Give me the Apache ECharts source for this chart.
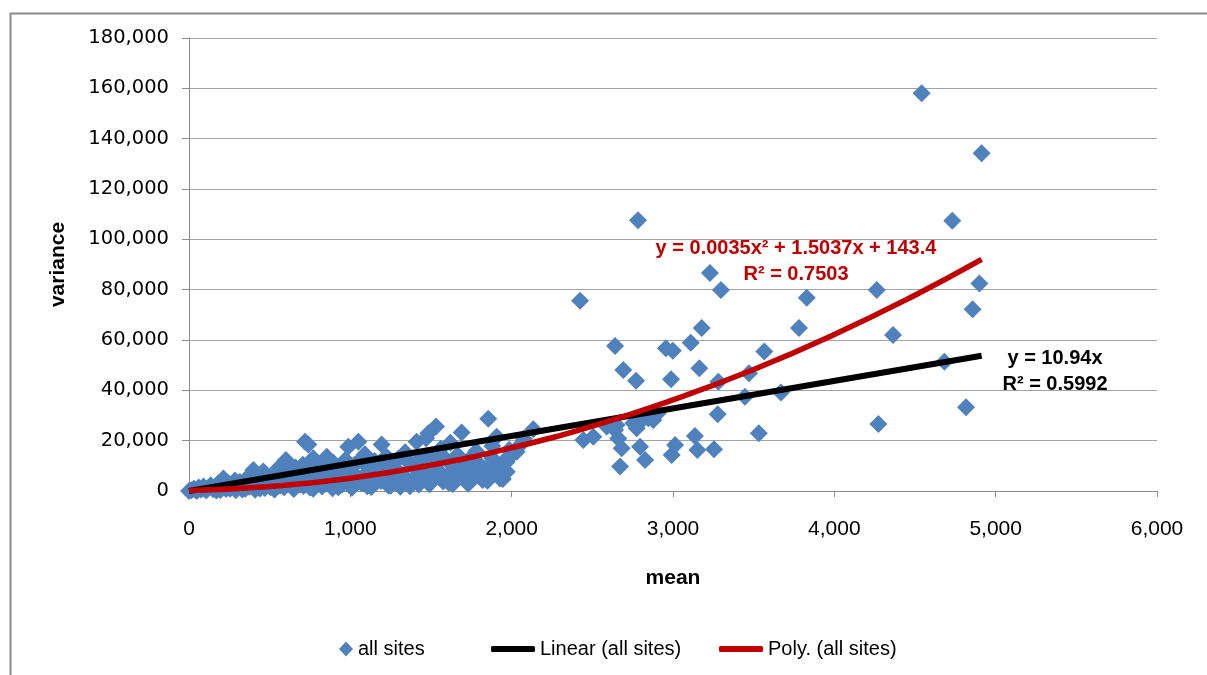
<!DOCTYPE html>
<html>
<head>
<meta charset="utf-8">
<script src="https://cdn.jsdelivr.net/npm/echarts@6/dist/echarts.min.js"></script>
<style>
  html, body { margin: 0; padding: 0; background: #ffffff; }
  #chart { width: 1207px; height: 675px; }
</style>
</head>
<body>
<div id="chart"></div>
<script>
// ---- data ----
// each point: [mean, variance]
const allSites = [
  [0,0],[15,300],[30,900],[45,200],[60,1400],[75,600],[90,1800],[105,300],[120,1100],[135,2300],[150,700],[165,1600],[180,2900],[195,400],[213,5000],[225,1900],[240,3300],[255,900],[270,2600],[285,4200],[300,1300],
  [315,3600],[330,600],[345,2400],[360,5200],[375,1700],[399,8300],[410,3900],[425,6200],[440,1000],[461,7700],[475,2800],[490,5300],[505,1500],[520,4400],[535,6800],[553,9000],[565,2200],[580,5800],[601,12300],[615,3400],[630,7600],[645,1200],[660,9300],[675,4800],[690,2600],[705,10400],[719,19600],
  [735,6000],[740,18500],[750,1400],[770,13000],[780,8200],[795,3600],[810,10700],[825,1800],[840,5700],[854,13600],[868,8800],[880,2900],[895,11200],[910,6300],[925,1500],[940,9200],[955,4100],[970,12400],[987,17600],[995,2400],
  [1010,7700],[1025,10300],[1040,3300],[1050,19600],[1060,12300],[1075,5600],[1090,14600],[1105,1900],[1120,9100],[1135,6900],[1150,11900],[1165,3700],[1180,8300],[1194,18500],[1208,5200],[1222,13800],[1236,2200],[1250,7400],[1266,9700],[1280,4300],[1295,12600],[1310,1700],[1325,6400],[1340,15400],[1355,3200],[1370,10800],[1390,9700],[1400,5100],[1411,19600],[1425,2600],[1440,13300],[1455,7700],[1470,21000],[1484,22900],[1495,4600],
  [1510,11400],[1531,25600],[1545,8200],[1560,16800],[1575,3800],[1590,12800],[1605,6300],[1620,19200],[1635,2800],[1650,9800],[1665,14300],[1690,23200],[1700,9000],[1715,5400],[1730,12100],[1745,3900],[1762,8300],[1780,15800],[1795,6100],[1804,10300],[1820,4400],[1838,8700],[1855,28700],[1866,5700],[1880,17900],[1895,9600],[1907,21600],[1928,5000],[1945,4800],[1959,12300],[1969,11600],[1985,16400],[2010,15000],[2031,15600],[2052,18300],[2075,20800],[2134,24500],
  [50,100],[110,500],[170,200],[230,800],[290,300],[350,900],[410,500],[470,1200],[530,600],[590,1500],[650,800],[710,2000],[770,900],[830,3000],[890,1100],[950,2600],[1010,1300],[1070,3100],[1130,1600],[1190,4000],[1250,2100],[1310,4600],[1370,1900],[1430,5300],[1490,2700],[1550,5800],[1610,3300],[1670,6400],[1730,2900],[1790,7300],[1850,4100],[1910,8800],[1970,7600],
  [560,3800],[690,6900],[820,7300],[960,8600],[1100,10100],[1230,10800],[1360,12000],[1500,14000],[1620,11000],[1750,10000],[1880,13000],
  [2424,75600],[2444,20300],[2506,21600],[2589,25600],[2641,24200],[2641,57600],[2650,26200],[2661,20900],[2672,9700],[2682,17000],[2692,48100],[2754,26900],[2775,24900],[2771,43800],[2783,107600],[2789,26900],[2796,17600],[2827,12300],[2847,28900],[2878,28200],[2905,30900],[2956,56700],[2988,44400],[2999,55700],[2992,14300],[3013,18300],[3110,58900],[3136,21900],[3151,16300],[3163,48800],[3178,64800],[3229,86600],[3254,16600],[3277,30500],[3281,43400],[3297,79900],[3446,37500],[3471,46800],[3532,22900],[3566,55400],[3669,39100],[3781,64800],[3829,76800],
  [4263,79900],[4273,26600],[4364,62000],[4541,158000],[4682,51400],[4731,107400],[4816,33300],[4857,72200],[4899,82500],[4913,134200]
];
// trendlines (as drawn in the picture)
const linearTrend = [[0,0],[4913,53750]];
const polyTrend = [[0,150],[500,1800],[1000,5100],[1500,10300],[2000,17200],[2500,25800],[3000,36200],[3500,48300],[4000,62200],[4500,77800],[4913,92000]];
const seriesNames = ['all sites','Linear (all sites)','Poly. (all sites)'];
const xTicks = [0,1000,2000,3000,4000,5000,6000];
const yTicks = [0,20000,40000,60000,80000,100000,120000,140000,160000,180000];
const polyLabel = 'y = 0.0035x\u00B2 + 1.5037x + 143.4\nR\u00B2 = 0.7503';
const linearLabel = 'y = 10.94x\nR\u00B2 = 0.5992';

const fmt = v => Number(v).toLocaleString('en-US');
const chart = echarts.init(document.getElementById('chart'), null, {renderer: 'canvas'});
const gridColor = '#a3a3a3';
const legendText = { fontFamily: 'Liberation Sans', fontSize: 20, color: '#000' };

chart.setOption({
  animation: false,
  backgroundColor: '#ffffff',
  grid: { left: 189, right: 50, top: 38, bottom: 184, containLabel: false },
  xAxis: {
    type: 'value', min: xTicks[0], max: xTicks[xTicks.length - 1], interval: 1000,
    name: 'mean', nameLocation: 'middle', nameGap: 77,
    nameTextStyle: { fontFamily: 'Liberation Sans', fontWeight: 'bold', fontSize: 21, color: '#000' },
    axisLine: { show: true, lineStyle: { color: '#8c8c8c', width: 1 } },
    axisTick: { show: true, inside: false, length: 6, lineStyle: { color: '#8c8c8c' } },
    axisLabel: { formatter: fmt, margin: 28, fontFamily: 'Liberation Sans', fontSize: 21, color: '#000' },
    splitLine: { show: false }
  },
  yAxis: {
    type: 'value', min: yTicks[0], max: yTicks[yTicks.length - 1], interval: 20000,
    name: 'variance', nameLocation: 'middle', nameGap: 120, nameRotate: 90,
    nameTextStyle: { fontFamily: 'Liberation Sans', fontWeight: 'bold', fontSize: 21, color: '#000' },
    axisLine: { show: true, lineStyle: { color: '#8c8c8c', width: 1 } },
    axisTick: { show: true, inside: false, length: 7, lineStyle: { color: '#8c8c8c' } },
    axisLabel: { formatter: fmt, margin: 20, fontFamily: 'DejaVu Sans', fontSize: 19.5, color: '#000' },
    splitLine: { show: true, lineStyle: { color: gridColor, width: 1 } }
  },
  legend: [
    { data: [{ name: seriesNames[0], icon: 'diamond' }], left: 334, top: 634, itemWidth: 14, itemHeight: 15,
      textStyle: legendText },
    { data: [{ name: seriesNames[1], icon: 'roundRect' }], left: 486, top: 634, itemWidth: 44, itemHeight: 6,
      itemStyle: { color: '#000000' }, textStyle: legendText },
    { data: [{ name: seriesNames[2], icon: 'roundRect' }], left: 714, top: 634, itemWidth: 44, itemHeight: 6,
      itemStyle: { color: '#c00000' }, textStyle: legendText }
  ],
  series: [
    { name: seriesNames[0], type: 'scatter', data: allSites, symbol: 'diamond', symbolSize: 18,
      itemStyle: { color: '#4f81bd', opacity: 1 }, z: 2 },
    { name: seriesNames[1], type: 'line', data: linearTrend, showSymbol: false, symbol: 'none',
      lineStyle: { color: '#000000', width: 6 }, itemStyle: { color: '#000000' }, z: 4 },
    { name: seriesNames[2], type: 'line', data: polyTrend, smooth: true, showSymbol: false, symbol: 'none',
      lineStyle: { color: '#c00000', width: 5.5 }, itemStyle: { color: '#c00000' }, z: 5 }
  ],
  graphic: [
    { type: 'rect', left: 8, top: 11, shape: { width: 1230, height: 700 }, silent: true, z: -1,
      style: { fill: 'none', stroke: '#8a8a8a', lineWidth: 2 } },
    { type: 'text', x: 796, y: 235, z: 10,
      style: { text: polyLabel, fill: '#c00000', font: 'bold 20px "Liberation Sans"', textAlign: 'center', lineHeight: 26 } },
    { type: 'text', x: 1055, y: 345, z: 10,
      style: { text: linearLabel, fill: '#000000', font: 'bold 20px "Liberation Sans"', textAlign: 'center', lineHeight: 26 } }
  ]
});
</script>
</body>
</html>
